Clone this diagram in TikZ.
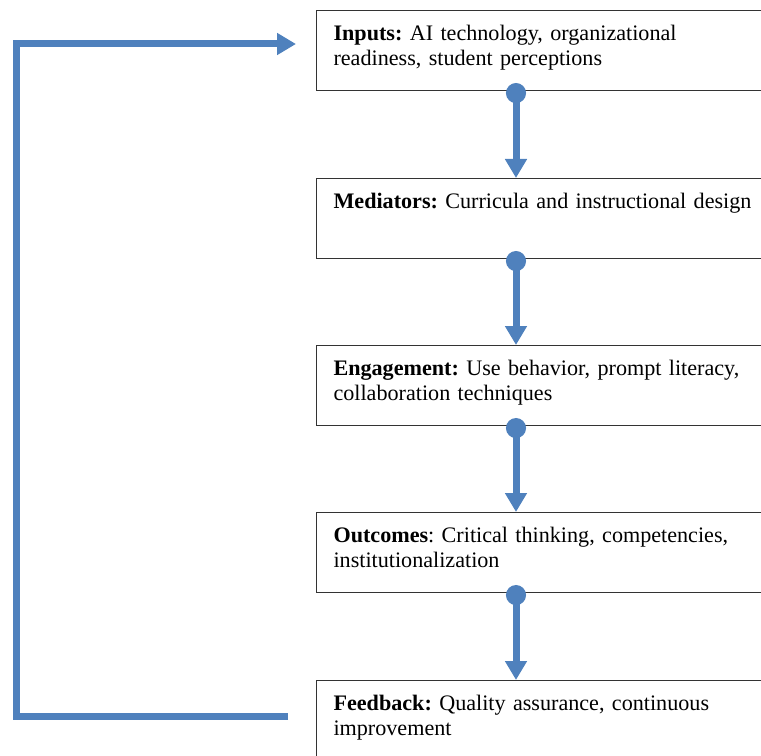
\documentclass[tikz,border=0pt]{standalone}
\usepackage{fontspec}
\setmainfont{Liberation Serif}
\usetikzlibrary{arrows.meta}

\definecolor{flowblue}{HTML}{4F81BD}

\begin{document}
\begin{tikzpicture}[
  x=0.75pt, y=-0.75pt,
  stage/.style={rectangle, draw=black!80, line width=0.8pt, anchor=north west,
    text width=322.5pt, align=left, inner xsep=12.75pt, inner ysep=0pt,
    text height=22.5pt, text depth=37.5pt,
    font=\fontsize{16.6pt}{18.75pt}\selectfont\frenchspacing},
  flow/.style={flowblue, line width=5.25pt,
    {Circle[length=15pt]}-{Triangle[length=14.25pt, width=15.75pt]}},
  loopback/.style={flowblue, line width=5.25pt, miter limit=10,
    -{Triangle[length=14.25pt, width=15.75pt]}}
  ]

  \useasboundingbox (0,0) rectangle (761,756);
  \clip (0,0) rectangle (761,756);

  \node[stage] (inputs) at (316,10) {\textbf{Inputs:} AI technology, organizational\\readiness, student perceptions};
  \node[stage] (mediators) at (316,178) {\textbf{Mediators:} Curricula and instructional design};
  \node[stage] (engagement) at (316,345) {\textbf{Engagement:} Use behavior, prompt literacy,\\collaboration techniques};
  \node[stage] (outcomes) at (316,512) {\textbf{Outcomes}: Critical thinking, competencies,\\institutionalization};
  \node[stage] (feedback) at (316,680) {\textbf{Feedback:} Quality assurance, continuous\\improvement};

  % dot on the lower edge, arrow into the next stage
  \draw[flow] ([xshift=150pt, yshift=6pt]inputs.south west) -- ([xshift=150pt]mediators.north west);
  \draw[flow] ([xshift=150pt, yshift=6pt]mediators.south west) -- ([xshift=150pt]engagement.north west);
  \draw[flow] ([xshift=150pt, yshift=6pt]engagement.south west) -- ([xshift=150pt]outcomes.north west);
  \draw[flow] ([xshift=150pt, yshift=6pt]outcomes.south west) -- ([xshift=150pt]feedback.north west);

  % feedback goes back round to the inputs
  \draw[loopback] ([xshift=-21pt, yshift=-27pt]feedback.north west) -- ++(-272,0)
    |- ([xshift=-15pt, yshift=-25.5pt]inputs.north west);

\end{tikzpicture}
\end{document}
